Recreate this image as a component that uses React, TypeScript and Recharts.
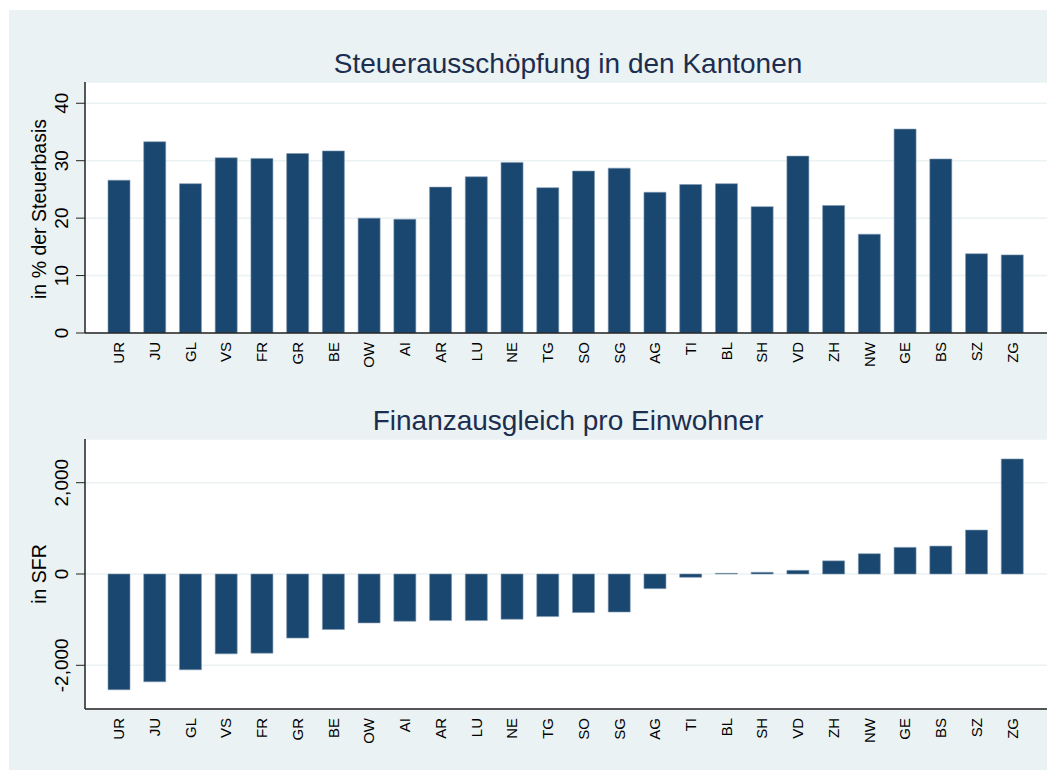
import { Bar, BarChart, CartesianGrid, XAxis, YAxis } from "recharts";

const kantone = [
  "UR", "JU", "GL", "VS", "FR", "GR", "BE", "OW", "AI", "AR", "LU", "NE", "TG",
  "SO", "SG", "AG", "TI", "BL", "SH", "VD", "ZH", "NW", "GE", "BS", "SZ", "ZG",
];
const steuerausschoepfung = [
  26.6, 33.3, 26.0, 30.5, 30.4, 31.25, 31.7, 20.0, 19.8, 25.4, 27.2, 29.7, 25.3,
  28.2, 28.7, 24.5, 25.85, 26.0, 22.0, 30.8, 22.2, 17.2, 35.5, 30.3, 13.8, 13.6,
];
const finanzausgleich = [
  -2536, -2361, -2098, -1749, -1734, -1403, -1217, -1071, -1035, -1020, -1020,
  -991, -933, -845, -833, -321, -72, 15, 37, 80, 288, 444, 583, 612, 962, 2520,
];
const steuerTicks = [0, 10, 20, 30, 40];
const finanzTicks = [-2000, 0, 2000];

const FONT = '"Liberation Sans", Arial, Helvetica, sans-serif';
const BG = "#eaf2f3";
const NAVY = "#1a476f";

const data = kantone.map((k, i) => ({
  kanton: k,
  steuer: steuerausschoepfung[i],
  finanz: finanzausgleich[i],
}));

function KantonTick({ x, y, payload }: any) {
  return (
    <text
      transform={`translate(${x},${y + 1}) rotate(-90)`}
      textAnchor="end"
      dy="0.36em"
      fontSize={15}
      fontFamily={FONT}
      fill="#000"
    >
      {payload.value}
    </text>
  );
}

function WertTick({ x, y, payload }: any) {
  return (
    <text
      transform={`translate(${x - 6},${y}) rotate(-90)`}
      textAnchor="middle"
      fontSize={19}
      fontFamily={FONT}
      fill="#000"
    >
      {Number(payload.value).toLocaleString("en-US")}
    </text>
  );
}

export default function App() {
  return (
    <div
      style={{
        position: "relative",
        left: 1,
        top: 2,
        width: 1046,
        height: 762,
        background: BG,
      }}
    >
      <div style={{ position: "absolute", left: 0, top: 0 }}>
        <BarChart
          width={1046}
          height={390}
          data={data}
          margin={{ top: 72, right: 7, left: 0, bottom: 0 }}
        >
          <CartesianGrid
            vertical={false}
            stroke={BG}
            strokeWidth={1.5}
            fill="#fff"
          />
          <XAxis
            dataKey="kanton"
            height={67}
            interval={0}
            tickLine={false}
            axisLine={{ stroke: "#222", strokeWidth: 1.5 }}
            padding={{ left: 16, right: 18 }}
            tick={KantonTick}
          />
          <YAxis
            width={76}
            domain={[0, 43.7]}
            ticks={steuerTicks}
            allowDataOverflow
            tickSize={9}
            tickLine={{ stroke: "#222" }}
            axisLine={{ stroke: "#222", strokeWidth: 1.5 }}
            tick={WertTick}
          />
          <Bar
            dataKey="steuer"
            fill={NAVY}
            stroke="#7f98b0"
            strokeWidth={0.6}
            barSize={22}
            isAnimationActive={false}
          />
        </BarChart>
      </div>
      <div style={{ position: "absolute", left: 0, top: 390 }}>
        <BarChart
          width={1046}
          height={372}
          data={data}
          margin={{ top: 39, right: 7, left: 0, bottom: 0 }}
        >
          <CartesianGrid
            vertical={false}
            stroke={BG}
            strokeWidth={1.5}
            fill="#fff"
          />
          <XAxis
            dataKey="kanton"
            height={63}
            interval={0}
            tickLine={false}
            axisLine={{ stroke: "#222", strokeWidth: 1.5 }}
            padding={{ left: 16, right: 18 }}
            tick={KantonTick}
          />
          <YAxis
            width={76}
            domain={[-2957, 2957]}
            ticks={finanzTicks}
            allowDataOverflow
            tickSize={9}
            tickLine={{ stroke: "#222" }}
            axisLine={{ stroke: "#222", strokeWidth: 1.5 }}
            tick={WertTick}
          />
          <Bar
            dataKey="finanz"
            fill={NAVY}
            stroke="#7f98b0"
            strokeWidth={0.6}
            barSize={22}
            isAnimationActive={false}
          />
        </BarChart>
      </div>
      <svg
        width={1046}
        height={762}
        style={{ position: "absolute", left: 0, top: 0, pointerEvents: "none" }}
        fontFamily={FONT}
      >
        <text x={559} y={63} textAnchor="middle" fontSize={28} fill="#1c2e4f">
          Steuerausschöpfung in den Kantonen
        </text>
        <text x={559} y={420} textAnchor="middle" fontSize={28} fill="#1c2e4f">
          Finanzausgleich pro Einwohner
        </text>
        <text
          transform="translate(36.5,199) rotate(-90)"
          textAnchor="middle"
          fontSize={19.5}
          fill="#000"
        >
          in % der Steuerbasis
        </text>
        <text
          transform="translate(37,564) rotate(-90)"
          textAnchor="middle"
          fontSize={19.5}
          fill="#000"
        >
          in SFR
        </text>
      </svg>
    </div>
  );
}
